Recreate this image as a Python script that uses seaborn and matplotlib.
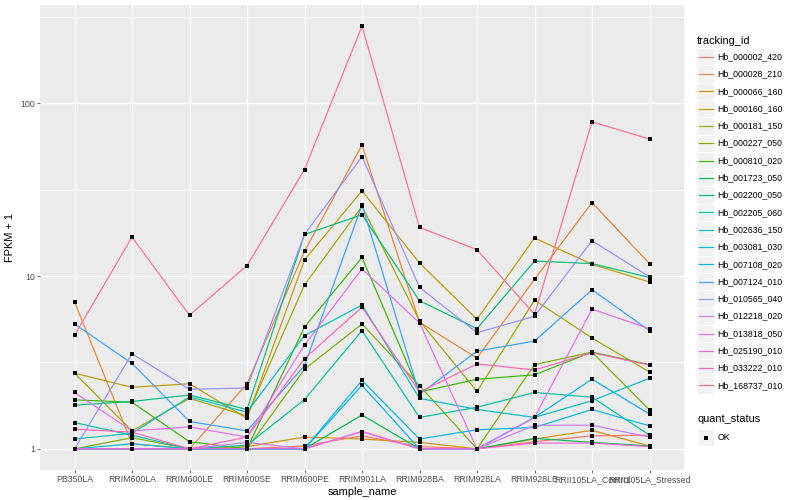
import matplotlib
matplotlib.use("Agg")
import matplotlib.pyplot as plt
import matplotlib.ticker as mticker
from matplotlib.patches import Rectangle
import seaborn as sns
import pandas as pd
import numpy as np

# ---------------- data ----------------
samples = ["PB350LA", "RRIM600LA", "RRIM600LE", "RRIM600SE", "RRIM600PE",
           "RRIM901LA", "RRIM928BA", "RRIM928LA", "RRIM928LE",
           "RRII105LA_Control", "RRII105LA_Stressed"]

tracking_ids = ["Hb_000002_420", "Hb_000028_210", "Hb_000066_160", "Hb_000160_160",
                "Hb_000181_150", "Hb_000227_050", "Hb_000810_020", "Hb_001723_050",
                "Hb_002200_050", "Hb_002205_060", "Hb_002636_150", "Hb_003081_030",
                "Hb_007108_020", "Hb_007124_010", "Hb_010565_040", "Hb_012218_020",
                "Hb_013818_050", "Hb_025190_010", "Hb_033222_010", "Hb_168737_010"]

hue_colors = ["#F8766D", "#EA8331", "#D89000", "#C09B00", "#A3A500", "#7CAE00",
              "#39B600", "#00BB4E", "#00BF7D", "#00C1A3", "#00BFC4", "#00BAE0",
              "#00B0F6", "#35A2FF", "#9590FF", "#C77CFF", "#E76BF3", "#FA62DB",
              "#FF62BC", "#FF6C91"]

# FPKM + 1 per gene, in sample order
Hb_000002_420 = [1.00, 1.00, 1.00, 1.00, 1.04, 1.19, 1.03, 1.00, 1.10, 1.19, 1.20]
Hb_000028_210 = [7.09, 1.07, 1.00, 2.38, 13.9, 57.2, 5.40, 3.35, 9.57, 26.6, 11.8]
Hb_000066_160 = [1.00, 1.00, 1.00, 1.03, 1.17, 1.14, 1.09, 1.00, 1.14, 1.28, 1.04]
Hb_000160_160 = [2.74, 2.27, 2.38, 1.50, 12.4, 31.1, 11.9, 5.62, 16.6, 11.7, 9.23]
Hb_000181_150 = [2.74, 1.27, 1.96, 1.55, 8.90, 25.3, 5.50, 2.15, 7.25, 4.38, 2.78]
Hb_000227_050 = [1.00, 1.16, 1.00, 1.00, 2.89, 5.28, 2.32, 1.00, 3.07, 3.63, 1.68]
Hb_000810_020 = [1.92, 1.86, 1.10, 1.00, 5.07, 12.8, 2.13, 2.53, 2.68, 3.63, 3.07]
Hb_001723_050 = [1.00, 1.00, 1.00, 1.00, 1.00, 1.57, 1.00, 1.00, 1.15, 1.09, 1.04]
Hb_002200_050 = [1.79, 1.88, 2.05, 1.69, 17.4, 22.6, 7.20, 4.96, 12.2, 11.8, 9.80]
Hb_002205_060 = [1.42, 1.20, 1.00, 1.05, 1.93, 4.83, 1.52, 1.74, 2.12, 1.99, 1.20]
Hb_002636_150 = [1.14, 1.23, 2.00, 1.63, 4.52, 6.80, 1.96, 1.69, 1.52, 1.90, 2.56]
Hb_003081_030 = [1.00, 1.07, 1.00, 1.00, 1.00, 2.49, 1.14, 1.29, 1.33, 1.69, 1.36]
Hb_007108_020 = [1.00, 1.00, 1.00, 1.00, 1.00, 2.33, 1.00, 1.00, 1.52, 2.53, 1.59]
Hb_007124_010 = [5.28, 3.12, 1.44, 1.27, 3.03, 25.8, 2.07, 3.68, 4.20, 8.33, 4.83]
Hb_010565_040 = [1.00, 3.55, 2.21, 2.25, 17.4, 49.0, 8.60, 4.70, 5.85, 16.0, 9.90]
Hb_012218_020 = [1.00, 1.00, 1.00, 1.09, 1.00, 1.26, 1.00, 1.00, 1.37, 1.37, 1.17]
Hb_013818_050 = [2.12, 1.27, 1.34, 1.17, 3.99, 11.0, 5.35, 1.00, 1.52, 6.43, 4.96]
Hb_025190_010 = [1.00, 1.00, 1.00, 1.00, 1.00, 1.26, 1.00, 1.00, 1.08, 1.08, 1.03]
Hb_033222_010 = [1.30, 1.25, 1.00, 1.17, 3.33, 6.60, 2.13, 3.10, 2.86, 3.60, 3.05]
Hb_168737_010 = [4.54, 16.8, 5.93, 11.5, 41.3, 279.0, 19.1, 14.2, 6.00, 78.0, 62.0]

series = [Hb_000002_420, Hb_000028_210, Hb_000066_160, Hb_000160_160, Hb_000181_150,
          Hb_000227_050, Hb_000810_020, Hb_001723_050, Hb_002200_050, Hb_002205_060,
          Hb_002636_150, Hb_003081_030, Hb_007108_020, Hb_007124_010, Hb_010565_040,
          Hb_012218_020, Hb_013818_050, Hb_025190_010, Hb_033222_010, Hb_168737_010]

rows = []
for tid, vals in zip(tracking_ids, series):
    for s, v in zip(samples, vals):
        rows.append({"tracking_id": tid, "sample_name": s, "fpkm": v, "quant_status": "OK"})
df = pd.DataFrame(rows)
df["sample_name"] = pd.Categorical(df["sample_name"], categories=samples, ordered=True)

# ---------------- figure ----------------
W, H = 800, 500
fig = plt.figure(figsize=(8, 5), dpi=100)
fig.patch.set_facecolor("white")
FONT = ["Liberation Sans", "DejaVu Sans"]
plt.rcParams["font.family"] = FONT

L, R, T, B = 40, 684, 5, 470
ax = fig.add_axes([L / W, 1 - B / H, (R - L) / W, (B - T) / H])
ax.set_facecolor("#EBEBEB")
for sp in ax.spines.values():
    sp.set_visible(False)

pal = dict(zip(tracking_ids, hue_colors))
sns.lineplot(data=df, x="sample_name", y="fpkm", hue="tracking_id", palette=pal,
             hue_order=tracking_ids, sort=False, estimator=None, units="tracking_id",
             linewidth=0.85, legend=False, ax=ax)
sns.scatterplot(data=df, x="sample_name", y="fpkm", color="black", marker="s",
                s=7, linewidth=0, legend=False, ax=ax, zorder=5)

ax.set_yscale("log")
lo, hi = np.log10(df["fpkm"].min()), np.log10(df["fpkm"].max())
pad = 0.05 * (hi - lo)
ax.set_ylim(10 ** (lo - pad), 10 ** (hi + pad))
ax.set_xlim(-0.6, len(samples) - 1 + 0.6)

ax.yaxis.set_major_locator(mticker.FixedLocator([1, 10, 100]))
ax.yaxis.set_major_formatter(mticker.FixedFormatter(["1", "10", "100"]))
ax.yaxis.set_minor_locator(mticker.FixedLocator([10 ** 0.5, 10 ** 1.5, 10 ** 2.5]))
ax.yaxis.set_minor_formatter(mticker.NullFormatter())
ax.set_xticks(range(len(samples)))
ax.set_xticklabels(samples)

ax.set_axisbelow(True)
ax.grid(which="major", color="white", linewidth=1.0)
ax.grid(which="minor", axis="y", color="white", linewidth=0.5)
ax.tick_params(axis="both", which="major", length=2.0, width=0.5, color="#333333",
               labelcolor="#4D4D4D", labelsize=6.3, pad=1.5)
ax.tick_params(axis="y", which="minor", length=0)

ax.set_xlabel("sample_name", fontsize=7.9, color="black", labelpad=2)
ax.set_ylabel("FPKM + 1", fontsize=7.9, color="black", labelpad=4)

# ---------------- legends (ggplot style, pixel coords) ----------------
lg = fig.add_axes([0, 0, 1, 1], facecolor="none")
lg.set_xlim(0, W)
lg.set_ylim(H, 0)
lg.axis("off")

kx, kw = 697, 17.3
lg.text(kx, 40.5, "tracking_id", fontsize=7.9, va="center", ha="left")
for i, (tid, col) in enumerate(zip(tracking_ids, hue_colors)):
    yc = 56.7 + 17.3 * i
    lg.add_patch(Rectangle((kx, yc - kw / 2), kw, kw, facecolor="#F2F2F2",
                           edgecolor="white", linewidth=0.8))
    lg.plot([kx + 1.7, kx + kw - 1.7], [yc, yc], color=col, linewidth=0.85)
    lg.text(kx + kw + 3, yc, tid, fontsize=6.3, va="center", ha="left")

lg.text(kx, 419, "quant_status", fontsize=7.9, va="center", ha="left")
yc = 437.5
lg.add_patch(Rectangle((kx, yc - kw / 2), kw, kw, facecolor="#F2F2F2",
                       edgecolor="white", linewidth=0.8))
lg.scatter([kx + kw / 2], [yc], marker="s", s=7, color="black", linewidth=0)
lg.text(kx + kw + 3, yc, "OK", fontsize=6.3, va="center", ha="left")

fig.savefig("out.png", dpi=100, facecolor="white")
